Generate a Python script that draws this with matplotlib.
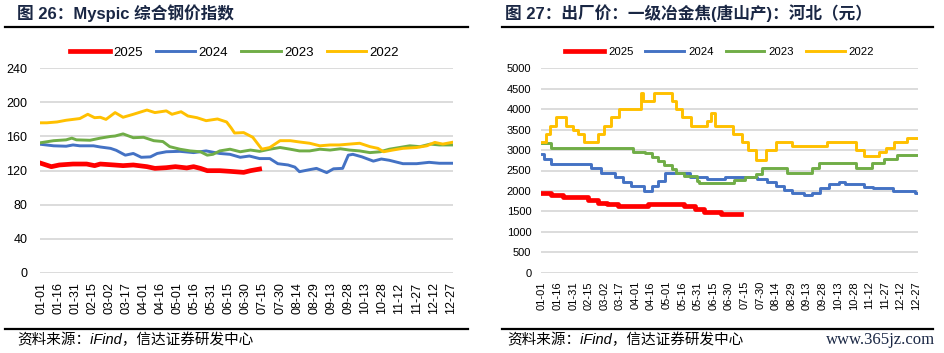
import matplotlib
matplotlib.use('Agg')
import matplotlib.pyplot as plt
from matplotlib.lines import Line2D

# 中文字体 + 西文字体
plt.rcParams['font.family'] = ['Liberation Sans', 'Noto Sans CJK SC', 'DejaVu Sans']
plt.rcParams['axes.unicode_minus'] = False

# ---------------- 数据 ----------------
years = ['2025', '2024', '2023', '2022']
colors = {'2025': '#FF0000', '2024': '#4472C4', '2023': '#70AD47', '2022': '#FFC000'}

# x 轴刻度（每 15 天一个）
tick_days = [0, 15, 30, 45, 60, 75, 90, 105, 120, 135, 150, 165, 180,
             195, 210, 225, 240, 255, 270, 285, 300, 315, 330, 345, 360]
tick_labels = ['01-01', '01-16', '01-31', '02-15', '03-02', '03-17', '04-01',
               '04-16', '05-01', '05-16', '05-31', '06-15', '06-30', '07-15',
               '07-30', '08-14', '08-29', '09-13', '09-28', '10-13', '10-28',
               '11-12', '11-27', '12-12', '12-27']

# 图26：Myspic 综合钢价指数（年内第几天, 指数）
steel_days_2025 = [0, 9, 16, 28, 40, 47, 52, 64, 72, 81, 93, 100, 110, 118, 128,
                   134, 140, 146, 157, 166, 178, 184, 192]
steel_2025 = [128.4, 124.5, 126.5, 127.6, 127.6, 125.7, 127.6, 126.5, 125.7, 126.5,
              124.5, 122.5, 123.3, 124.5, 123, 124.5, 122.5, 119.8, 119.8, 119,
              117.8, 119.8, 121.7]

steel_days_2024 = [0, 11, 22, 28, 34, 46, 52, 61, 66, 74, 81, 88, 96, 102, 110, 122,
                   134, 145, 157, 166, 175, 183, 192, 201, 208, 217, 223, 227, 236,
                   242, 251, 257, 265, 270, 274, 282, 286, 292, 299, 306, 318, 330,
                   341, 350, 361]
steel_2024 = [150.7, 149, 148.5, 150, 149, 149, 147.6, 146, 143.7, 138, 140, 135.5,
              136, 140, 142, 142.5, 141, 143, 140, 139, 135.5, 137, 134, 134, 128,
              126.5, 124, 118.6, 121, 122.5, 117.5, 122, 122.5, 138, 139, 136, 134,
              131, 133.5, 132, 128, 128, 129.6, 128.5, 128.5]

steel_days_2023 = [0, 11, 22, 27, 31, 43, 52, 61, 65, 72, 81, 90, 99, 107, 113, 122,
                   131, 140, 146, 151, 157, 166, 175, 184, 192, 201, 210, 219, 227,
                   236, 245, 254, 263, 271, 280, 289, 298, 306, 315, 324, 333, 342,
                   350, 361]
steel_2023 = [152.7, 155, 156, 158, 156, 155.5, 158, 160, 160.5, 163, 158.5, 159,
              155, 154, 148, 145, 143, 142, 138, 139, 143, 145, 142, 144, 142.5, 145,
              147, 145, 143, 143, 145, 144, 145.5, 144, 143, 141, 142, 145, 147, 149,
              148, 151, 150, 150]

steel_days_2022 = [0, 5, 14, 22, 34, 41, 47, 52, 57, 65, 72, 81, 93, 100, 110, 115,
                   123, 129, 137, 145, 155, 163, 167, 170, 178, 186, 194, 201, 210,
                   219, 227, 236, 245, 254, 262, 271, 280, 289, 296, 301, 309, 318,
                   330, 339, 346, 353, 361]
steel_2022 = [176, 176, 177, 179, 181, 186, 182, 182.5, 180, 188, 182.5, 186, 191,
              188, 190, 186, 189, 184, 182, 178.5, 180.5, 177, 170, 164, 164.5, 159,
              145, 147, 155, 155, 153.5, 152, 149, 150, 150, 151, 152, 148, 146, 142,
              144, 146, 147, 149, 153, 151, 153]

# 图27：一级冶金焦出厂价（唐山产，河北，元），阶梯变化点
coke_days_2025 = [0, 9, 20, 44, 54, 63, 73, 102, 137, 147, 156, 172, 192]
coke_2025 = [1960, 1900, 1840, 1780, 1710, 1680, 1630, 1680, 1630, 1570, 1490, 1440, 1440]

coke_days_2024 = [0, 2, 9, 47, 57, 70, 78, 86, 98, 106, 112, 118, 142, 159, 176,
                  207, 217, 225, 233, 241, 252, 260, 268, 276, 286, 292, 310, 319,
                  338, 359, 361]
coke_2024 = [2900, 2780, 2660, 2550, 2450, 2330, 2230, 2120, 2010, 2120, 2240, 2450,
             2330, 2280, 2340, 2280, 2210, 2120, 2020, 1940, 1890, 1960, 2060, 2170,
             2220, 2160, 2100, 2060, 2010, 1940, 1940]

coke_days_2023 = [0, 9, 88, 99, 106, 112, 117, 125, 129, 137, 149, 151, 185, 195,
                  206, 212, 236, 260, 267, 302, 318, 329, 342, 361]
coke_2023 = [3180, 3060, 2960, 2920, 2820, 2730, 2640, 2530, 2430, 2360, 2240, 2200,
             2270, 2330, 2420, 2560, 2450, 2560, 2680, 2560, 2680, 2780, 2880, 2880]

coke_days_2022 = [0, 4, 8, 13, 23, 30, 35, 40, 54, 60, 66, 74, 95, 97, 108, 125, 129,
                  135, 143, 159, 163, 167, 184, 193, 198, 206, 216, 225, 241, 274,
                  302, 310, 324, 331, 339, 351, 361]
coke_2022 = [3200, 3400, 3600, 3800, 3600, 3500, 3400, 3200, 3400, 3600, 3800, 4000,
             4400, 4200, 4400, 4200, 4000, 3800, 3600, 3700, 3900, 3600, 3400, 3200,
             3000, 2750, 3000, 3200, 3100, 3200, 3000, 2850, 2950, 3050, 3200, 3300,
             3300]

W, H = 944, 353
title_color = '#1A2744'


def px_x(x):
    return x / W


def px_y(y):
    return 1 - y / H


def style_axes(ax, ymax, ystep, tick_size, ylab_pad, xlab_pad):
    ax.set_xlim(-1, 362)
    ax.set_ylim(0, ymax)
    ax.set_yticks(range(0, ymax + 1, ystep))
    ax.set_xticks(tick_days)
    ax.set_xticklabels(tick_labels, rotation=90)
    ax.tick_params(axis='both', length=0, labelsize=tick_size, colors='black')
    ax.tick_params(axis='y', pad=ylab_pad)
    ax.tick_params(axis='x', pad=xlab_pad)
    for s in ax.spines.values():
        s.set_visible(False)
    ax.grid(axis='y', color='#D9D9D9', linewidth=1.3)
    ax.set_axisbelow(True)


fig = plt.figure(figsize=(W / 100, H / 100), dpi=100)

# ---------- 左图 ----------
ax1 = fig.add_axes([px_x(40), px_y(272.7), px_x(413), 204.4 / H])
steel = {
    '2025': (steel_days_2025, steel_2025),
    '2024': (steel_days_2024, steel_2024),
    '2023': (steel_days_2023, steel_2023),
    '2022': (steel_days_2022, steel_2022),
}
handles = []
for yr in years:
    d, v = steel[yr]
    lw = 3.4 if yr == '2025' else 2.1
    ln, = ax1.plot(d, v, color=colors[yr], lw=lw, label=yr,
                   zorder=5 if yr == '2025' else 3)
    handles.append(ln)
style_axes(ax1, 240, 40, 9, 9, 7)
ax1.legend(handles=handles, loc='center', bbox_to_anchor=(0.471, 1.075), ncol=4,
           frameon=False, fontsize=9.5, handlelength=3.0, handletextpad=0.25,
           columnspacing=1.0, borderaxespad=0)

# ---------- 右图 ----------
ax2 = fig.add_axes([px_x(541), px_y(272.7), px_x(377), 204.4 / H])
coke = {
    '2025': (coke_days_2025, coke_2025),
    '2024': (coke_days_2024, coke_2024),
    '2023': (coke_days_2023, coke_2023),
    '2022': (coke_days_2022, coke_2022),
}
handles = []
for yr in years:
    d, v = coke[yr]
    lw = 3.4 if yr == '2025' else 2.1
    ln, = ax2.plot(d, v, color=colors[yr], lw=lw, label=yr, drawstyle='steps-post',
                   zorder=5 if yr == '2025' else 3)
    handles.append(ln)
style_axes(ax2, 5000, 500, 8, 7, 6)
ax2.legend(handles=handles, loc='center', bbox_to_anchor=(0.474, 1.08), ncol=4,
           frameon=False, fontsize=8.2, handlelength=3.4, handletextpad=0.35,
           columnspacing=1.05, borderaxespad=0)

# ---------- 标题、分隔线、来源 ----------
fig.text(px_x(17), px_y(13), '图 26：Myspic 综合钢价指数', fontsize=12,
         fontweight='bold', color=title_color, va='center', ha='left')
fig.text(px_x(505), px_y(13), '图 27：出厂价：一级冶金焦(唐山产)：河北（元）',
         fontsize=12, fontweight='bold', color=title_color, va='center', ha='left')

for x0, x1 in [(5, 468), (502, 933)]:
    fig.add_artist(Line2D([px_x(x0), px_x(x1)], [px_y(26.5)] * 2, color='black', lw=1.6))
    fig.add_artist(Line2D([px_x(x0), px_x(x1)], [px_y(328.5)] * 2, color='black', lw=1.6))

src = '资料来源：iFind，信达证券研发中心'
fig.text(px_x(17), px_y(340), src, fontsize=10.5, style='italic', va='center', ha='left')
fig.text(px_x(507), px_y(340), src, fontsize=10.5, style='italic', va='center', ha='left')
fig.text(px_x(935), px_y(340), 'www.365jz.com', fontsize=12, color=title_color,
         family='Liberation Serif', va='center', ha='right')

fig.savefig('out.png', dpi=100)
